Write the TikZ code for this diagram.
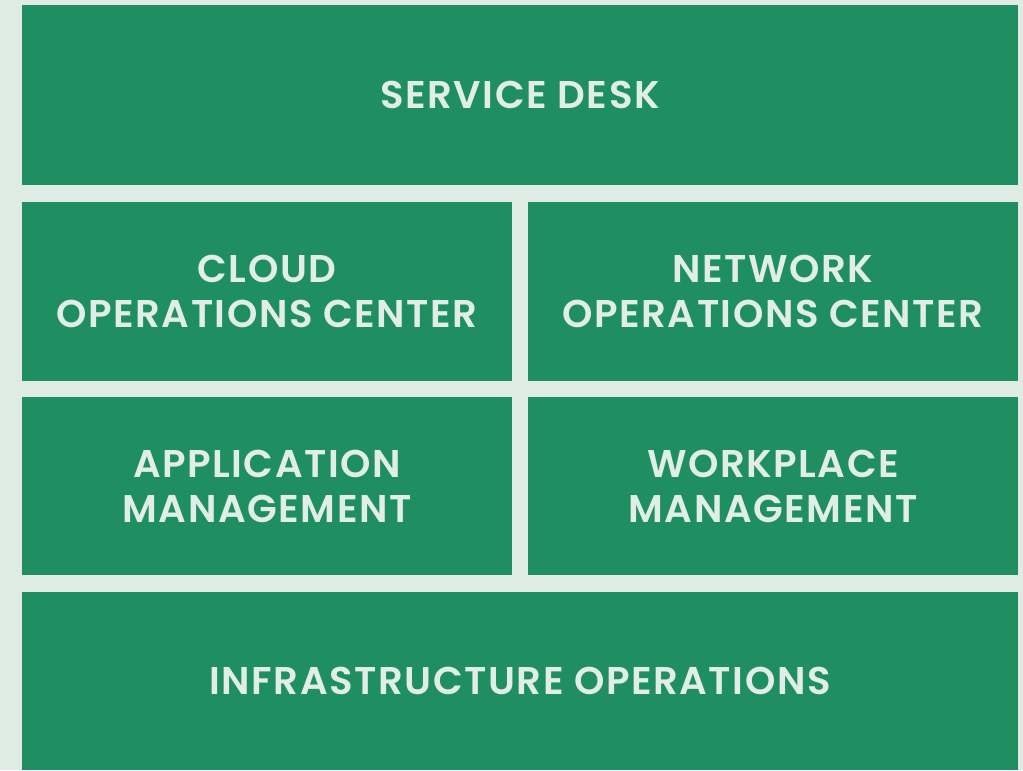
\documentclass[tikz,border=0pt]{standalone}
\usepackage{fontspec}
\newfontfamily\tilefont{Poppins SemiBold}[LetterSpace=4]
\usetikzlibrary{positioning}
\definecolor{tilegreen}{HTML}{1F8F62}
\definecolor{bgmint}{HTML}{DFECE6}
\definecolor{tiletext}{HTML}{E1EEE8}

\begin{document}
\begin{tikzpicture}
    [
      x=0.75pt,y=-0.75pt,
      tile/.style={fill=tilegreen,draw=none,text=tiletext,align=center,inner sep=0pt,
        font=\tilefont\fontsize{29}{33.75}\selectfont},
      wide/.style={tile,minimum width=747pt,minimum height=135pt},
      half/.style={tile,minimum width=367.5pt,minimum height=134pt},
    ]

    \fill [bgmint] (0,0) rectangle (1023,770);

    \node (service-desk) [wide] at (520,95) {SERVICE DESK};
    \node (cloud-oc) [half] at (267,291.5) {CLOUD\\OPERATIONS CENTER};
    \node (network-oc) [half] at (773,291.5) {NETWORK\\OPERATIONS CENTER};
    \node (app-mgmt) [half] at (267,486) {APPLICATION\\MANAGEMENT};
    \node (work-mgmt) [half] at (773,486) {WORKPLACE\\MANAGEMENT};
    \node (infra-ops) [wide,minimum height=133.5pt] at (520,681) {INFRASTRUCTURE OPERATIONS};

  \end{tikzpicture}
\end{document}
